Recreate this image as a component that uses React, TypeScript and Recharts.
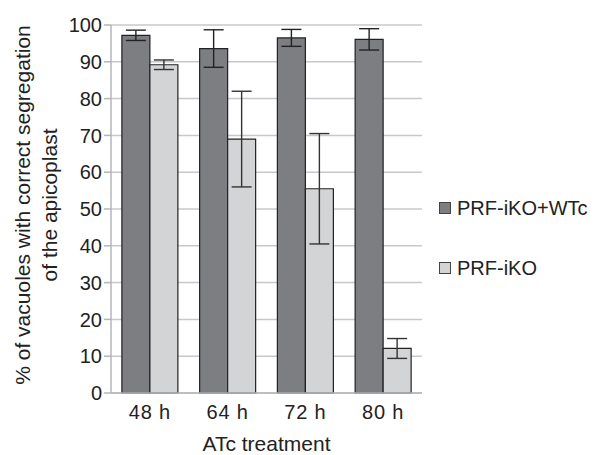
import { BarChart, Bar, XAxis, YAxis, CartesianGrid, ErrorBar, ReferenceLine } from 'recharts'

const categories = ['48 h', '64 h', '72 h', '80 h']
const wtcValues = [97.2, 93.6, 96.5, 96.1]
const wtcErrors = [1.4, 5.1, 2.3, 2.9]
const ikoValues = [89.2, 69.0, 55.5, 12.1]
const ikoErrors = [1.3, 13.0, 15.0, 2.7]
const yTicks = [0, 10, 20, 30, 40, 50, 60, 70, 80, 90, 100]

const data = categories.map((c, i) => ({
  name: c,
  wtc: wtcValues[i],
  wtcErr: wtcErrors[i],
  iko: ikoValues[i],
  ikoErr: ikoErrors[i],
}))

const font = '"Liberation Sans", Arial, sans-serif'
const darkFill = '#7d7e82'
const lightFill = '#d3d4d6'
const gridColor = '#c7c8cc'
const axisColor = '#b5b6ba'

function YLabel() {
  return (
    <text transform="translate(0,205) rotate(-90)" textAnchor="middle" fontFamily={font} fontSize={21} fill="#222">
      <tspan x={0} y={30}>% of vacuoles with correct segregation</tspan>
      <tspan x={0} y={57}>of the apicoplast</tspan>
    </text>
  )
}

function LegendBox() {
  const items = [
    { label: 'PRF-iKO+WTc', color: darkFill },
    { label: 'PRF-iKO', color: lightFill },
  ]
  return (
    <div style={{ position: 'absolute', left: 439, top: 196, fontFamily: font, fontSize: 20, color: '#222' }}>
      {items.map((it, i) => (
        <div key={i} style={{ display: 'flex', alignItems: 'center', height: 24, marginBottom: i === 0 ? 36 : 0 }}>
          <div style={{ width: 10, height: 10, background: it.color, border: '1px solid #444', marginRight: 6 }} />
          <span>{it.label}</span>
        </div>
      ))}
    </div>
  )
}

export default function App() {
  return (
    <div style={{ position: 'absolute', left: 0, top: 0, width: 603, height: 455, background: '#fff' }}>
      <BarChart
        width={603}
        height={455}
        data={data}
        margin={{ top: 25, right: 181, bottom: 0, left: 0 }}
        barCategoryGap="14%"
        barGap={0}
      >
        <CartesianGrid vertical={false} stroke={gridColor} strokeWidth={1.5} />
        <XAxis
          xAxisId="b"
          type="number"
          domain={[0, 4]}
          ticks={[0, 1, 2, 3, 4]}
          height={0}
          axisLine={false}
          tickLine={{ stroke: axisColor, strokeWidth: 1.5 }}
          tickSize={8}
          tickFormatter={() => ''}
        />
        <XAxis
          dataKey="name"
          height={62}
          axisLine={{ stroke: axisColor, strokeWidth: 1.5 }}
          tickLine={false}
          tick={{ fontFamily: font, fontSize: 20, fill: '#222', letterSpacing: 0.8 }}
          tickMargin={6}
          label={{ value: 'ATc treatment', position: 'insideBottom', offset: 4, fontFamily: font, fontSize: 21, fill: '#222' }}
        />
        <YAxis
          width={111}
          domain={[0, 100]}
          ticks={yTicks}
          interval={0}
          axisLine={{ stroke: axisColor, strokeWidth: 1.5 }}
          tickLine={{ stroke: axisColor, strokeWidth: 1.5 }}
          tickSize={7}
          tickMargin={2}
          tick={{ fontFamily: font, fontSize: 20, fill: '#222' }}
          label={<YLabel />}
        />
        <ReferenceLine xAxisId="b" x={4} stroke={gridColor} strokeWidth={1.5} />
        <Bar dataKey="wtc" name="PRF-iKO+WTc" fill={darkFill} stroke="#222" strokeWidth={1.2} isAnimationActive={false}>
          <ErrorBar dataKey="wtcErr" width={10} stroke="#222" strokeWidth={1.4} />
        </Bar>
        <Bar dataKey="iko" name="PRF-iKO" fill={lightFill} stroke="#222" strokeWidth={1.2} isAnimationActive={false}>
          <ErrorBar dataKey="ikoErr" width={10} stroke="#333" strokeWidth={1.4} />
        </Bar>
      </BarChart>
      <LegendBox />
    </div>
  )
}
